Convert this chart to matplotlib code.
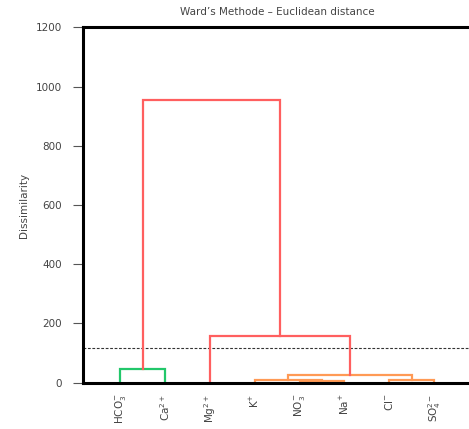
import numpy as np
import matplotlib.pyplot as plt

# leaves in dendrogram order
labels = [r'HCO$_3^{-}$', r'Ca$^{2+}$', r'Mg$^{2+}$', r'K$^{+}$', r'NO$_3^{-}$',
          r'Na$^{+}$', r'Cl$^{-}$', r'SO$_4^{2-}$']

# merges: left child, right child, height (new cluster ids start at 8)
merge_left = [4, 3, 6, 9, 0, 2, 12]
merge_right = [5, 8, 7, 10, 1, 11, 13]
merge_height = [5, 10, 9, 26, 46, 157, 955]
merge_color = ['#ff9a55', '#ff9a55', '#ff9a55', '#ff9a55', '#22c76a', '#ff5f5f', '#ff5f5f']

cut_height = 117

n = len(labels)
pos = {i: float(i) for i in range(n)}
top = {i: 0.0 for i in range(n)}

fig = plt.figure(figsize=(4.69, 4.29), dpi=100)
ax = fig.add_axes([0.177, 0.108, 0.83, 0.828])

for k, (a, b, h, c) in enumerate(zip(merge_left, merge_right, merge_height, merge_color)):
    xa, xb = pos[a], pos[b]
    ax.plot([xa, xa, xb, xb], [top[a], h, h, top[b]], color=c, lw=1.6,
            solid_joinstyle='miter', clip_on=False, zorder=2)
    pos[n + k] = (xa + xb) / 2
    top[n + k] = h

ax.axhline(cut_height, color='#333333', lw=0.8, ls=(0, (2.5, 1.5)), zorder=1)

ax.set_xlim(-0.83, 7.85)
ax.set_ylim(0, 1200)
ax.set_yticks(np.arange(0, 1201, 200))
ax.set_xticks(range(n))
ax.set_xticklabels(labels, rotation=90, fontsize=7.5, color='#444444')
ax.tick_params(axis='x', length=0, pad=8)
ax.tick_params(axis='y', length=7, width=0.8, color='#555555', labelsize=7.5,
               labelcolor='#444444', pad=8)

for s in ['left', 'bottom', 'top']:
    ax.spines[s].set_linewidth(2.2)
    ax.spines[s].set_color('black')
ax.spines['right'].set_visible(False)

ax.set_ylabel('Dissimilarity', fontsize=7.5, color='#444444', labelpad=5)
ax.set_title("Ward\u2019s Methode \u2013 Euclidean distance", fontsize=7.5,
             color='#444444', pad=9)

fig.savefig('out.png', dpi=100)
